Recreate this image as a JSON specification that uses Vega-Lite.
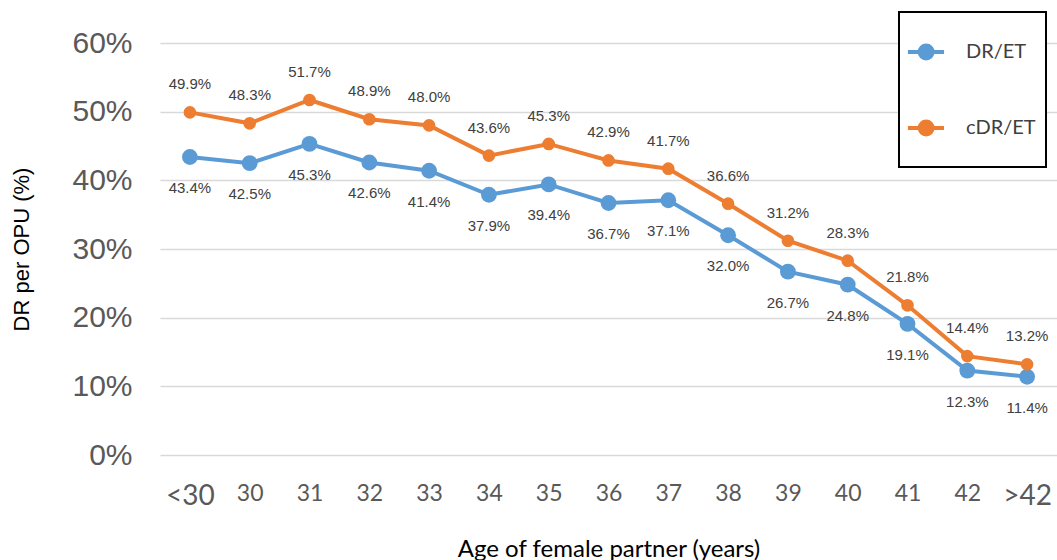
{
  "$schema": "https://vega.github.io/schema/vega-lite/v6.json",
  "width": 897,
  "height": 412,
  "autosize": {"type": "none"},
  "padding": {"left": 160, "top": 43, "right": 0, "bottom": 105},
  "background": "white",
  "config": {"view": {"stroke": null}, "legend": {"strokeWidth": 2}},
  "data": {"values": [
    {"age": "<30", "series": "DR/ET", "v": 0.434},
    {"age": "30", "series": "DR/ET", "v": 0.425},
    {"age": "31", "series": "DR/ET", "v": 0.453},
    {"age": "32", "series": "DR/ET", "v": 0.426},
    {"age": "33", "series": "DR/ET", "v": 0.414},
    {"age": "34", "series": "DR/ET", "v": 0.379},
    {"age": "35", "series": "DR/ET", "v": 0.394},
    {"age": "36", "series": "DR/ET", "v": 0.367},
    {"age": "37", "series": "DR/ET", "v": 0.371},
    {"age": "38", "series": "DR/ET", "v": 0.320},
    {"age": "39", "series": "DR/ET", "v": 0.267},
    {"age": "40", "series": "DR/ET", "v": 0.248},
    {"age": "41", "series": "DR/ET", "v": 0.191},
    {"age": "42", "series": "DR/ET", "v": 0.123},
    {"age": ">42", "series": "DR/ET", "v": 0.114},
    {"age": "<30", "series": "cDR/ET", "v": 0.499},
    {"age": "30", "series": "cDR/ET", "v": 0.483},
    {"age": "31", "series": "cDR/ET", "v": 0.517},
    {"age": "32", "series": "cDR/ET", "v": 0.489},
    {"age": "33", "series": "cDR/ET", "v": 0.480},
    {"age": "34", "series": "cDR/ET", "v": 0.436},
    {"age": "35", "series": "cDR/ET", "v": 0.453},
    {"age": "36", "series": "cDR/ET", "v": 0.429},
    {"age": "37", "series": "cDR/ET", "v": 0.417},
    {"age": "38", "series": "cDR/ET", "v": 0.366},
    {"age": "39", "series": "cDR/ET", "v": 0.312},
    {"age": "40", "series": "cDR/ET", "v": 0.283},
    {"age": "41", "series": "cDR/ET", "v": 0.218},
    {"age": "42", "series": "cDR/ET", "v": 0.144},
    {"age": ">42", "series": "cDR/ET", "v": 0.132}
  ]},
  "encoding": {
    "x": {
      "field": "age", "type": "ordinal", "sort": null,
      "scale": {"type": "point", "padding": 0.5},
      "axis": {
        "title": "Age of female partner (years)",
        "titleFont": "Lato", "titleFontSize": 24, "titleFontWeight": "normal", "titleColor": "#000000",
        "titlePadding": 27,
        "labelAngle": 0,
        "labelFont": "Lato",
        "labelFontSize": {"condition": {"test": "datum.value == '<30' || datum.value == '>42'", "value": 28}, "value": 23},
        "labelColor": "#595959",
        "labelPadding": 27,
        "labelBaseline": "top",
        "domain": false, "ticks": false, "grid": false
      }
    },
    "y": {
      "field": "v", "type": "quantitative",
      "scale": {"domain": [0, 0.6], "nice": false},
      "axis": {
        "title": "DR per OPU (%)",
        "titleFont": "Liberation Sans", "titleFontSize": 22, "titleFontWeight": "normal", "titleColor": "#000000",
        "titlePadding": 38,
        "format": ".0%", "values": [0, 0.1, 0.2, 0.3, 0.4, 0.5, 0.6],
        "labelFont": "Liberation Sans", "labelFontSize": 30, "labelColor": "#595959",
        "labelPadding": 28,
        "domain": false, "ticks": false,
        "grid": true, "gridColor": "#d9d9d9", "gridWidth": 1.5
      }
    },
    "color": {
      "field": "series", "type": "nominal",
      "scale": {"domain": ["DR/ET", "cDR/ET"], "range": ["#5B9BD5", "#ED7D31"]},
      "legend": {
        "title": null,
        "orient": "none", "legendX": 739, "legendY": -31,
        "fillColor": "white", "strokeColor": "#000000",
        "padding": 10,
        "labelFont": "Lato", "labelFontSize": 20, "labelColor": "#404040",
        "labelOffset": -3,
        "rowPadding": 17,
        "symbolType": "M0,-0.72L0,-0.72M0,0.72L0,0.72M1,0L1,0M-1.11,0L0.18,0M-0.69,0A0.23,0.23 0 1,0 -0.23,0A0.23,0.23 0 1,0 -0.69,0",
        "symbolSize": 3136, "symbolStrokeWidth": 4
      }
    }
  },
  "layer": [
    {"mark": {"type": "line", "strokeWidth": 4}},
    {"transform": [{"filter": "datum.series == 'DR/ET'"}],
     "mark": {"type": "point", "filled": true, "opacity": 1, "size": 250}},
    {"transform": [{"filter": "datum.series == 'cDR/ET'"}],
     "mark": {"type": "point", "filled": true, "opacity": 1, "size": 160}},
    {"transform": [{"filter": "datum.series == 'cDR/ET'"}],
     "mark": {"type": "text", "dy": -28, "fontSize": 15, "font": "Liberation Sans", "color": "#404040"},
     "encoding": {"text": {"field": "v", "format": ".1%"}, "color": {"value": "#404040"}}},
    {"transform": [{"filter": "datum.series == 'DR/ET'"}],
     "mark": {"type": "text", "dy": 31, "fontSize": 15, "font": "Liberation Sans", "color": "#404040"},
     "encoding": {"text": {"field": "v", "format": ".1%"}, "color": {"value": "#404040"}}}
  ]
}
